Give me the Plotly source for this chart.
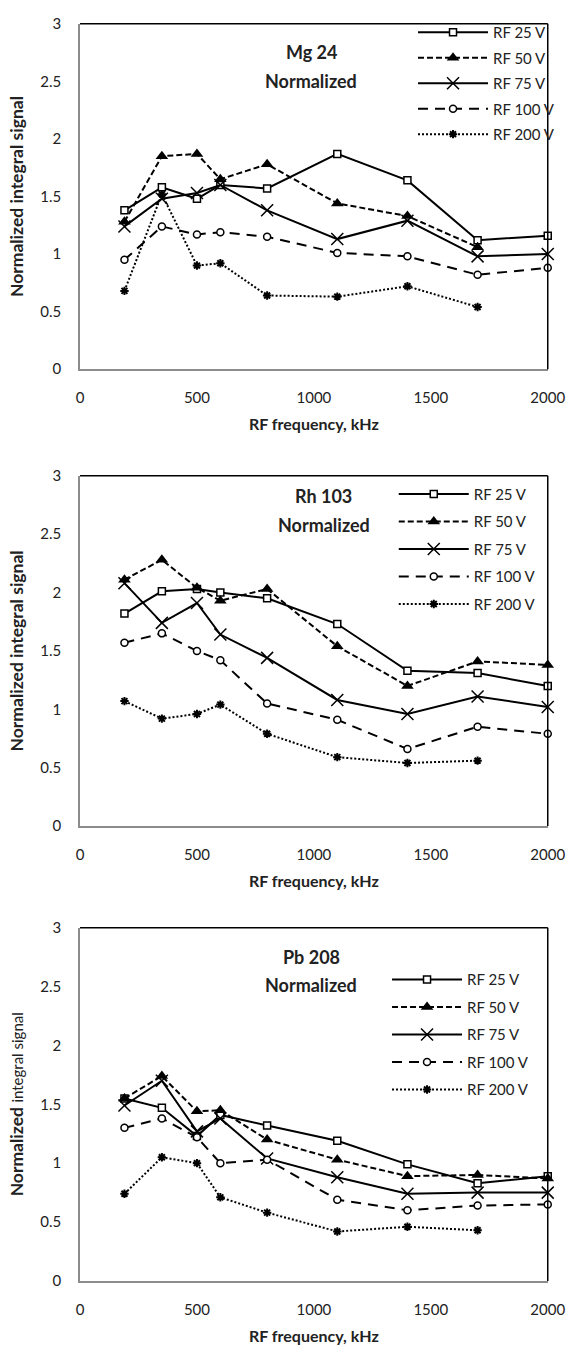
import plotly.graph_objects as go

# RF frequencies (kHz)
freq = [190, 350, 500, 600, 800, 1100, 1400, 1700, 2000]
freq_200 = freq[:8]

# Mg 24
mg_25 = [1.38, 1.58, 1.48, 1.60, 1.57, 1.87, 1.64, 1.12, 1.16]
mg_50 = [1.28, 1.85, 1.87, 1.65, 1.78, 1.44, 1.33, 1.06]
mg_75 = [1.24, 1.48, 1.53, 1.60, 1.38, 1.13, 1.29, 0.98, 1.00]
mg_100 = [0.95, 1.24, 1.17, 1.19, 1.15, 1.01, 0.98, 0.82, 0.88]
mg_200 = [0.68, 1.52, 0.90, 0.92, 0.64, 0.63, 0.72, 0.54]

# Rh 103
rh_25 = [1.82, 2.01, 2.03, 2.00, 1.95, 1.73, 1.33, 1.31, 1.20]
rh_50 = [2.11, 2.28, 2.04, 1.93, 2.03, 1.54, 1.20, 1.41, 1.38]
rh_75 = [2.08, 1.74, 1.91, 1.64, 1.44, 1.08, 0.96, 1.11, 1.02]
rh_100 = [1.57, 1.65, 1.50, 1.42, 1.05, 0.91, 0.66, 0.85, 0.79]
rh_200 = [1.07, 0.92, 0.96, 1.04, 0.79, 0.59, 0.54, 0.56]

# Pb 208
pb_25 = [1.55, 1.47, 1.23, 1.41, 1.32, 1.19, 0.99, 0.83, 0.89]
pb_50 = [1.55, 1.74, 1.44, 1.45, 1.20, 1.03, 0.89, 0.90, 0.87]
pb_75 = [1.49, 1.70, 1.27, 1.38, 1.04, 0.88, 0.74, 0.75, 0.75]
pb_100 = [1.30, 1.38, 1.22, 1.00, 1.03, 0.69, 0.60, 0.64, 0.65]
pb_200 = [0.74, 1.05, 1.00, 0.71, 0.58, 0.42, 0.46, 0.43]

series_names = ["RF 25 V", "RF 50 V", "RF 75 V", "RF 100 V", "RF 200 V"]
panel_titles = ["Mg 24", "Rh 103", "Pb 208"]
panels = [
    [mg_25, mg_50, mg_75, mg_100, mg_200],
    [rh_25, rh_50, rh_75, rh_100, rh_200],
    [pb_25, pb_50, pb_75, pb_100, pb_200],
]

W, H = 585, 1358
FONT = "Lato"

# line / marker styles per RF voltage
styles = [
    dict(dash="solid", width=2, symbol="square", size=7, fill="white", mlw=1.5),
    dict(dash="6px,3px", width=2, symbol="triangle-up", size=11, fill="black", mlw=0),
    dict(dash="solid", width=2, symbol="x-thin-open", size=12, fill="black", mlw=1.5),
    dict(dash="10px,7px", width=2, symbol="circle", size=7, fill="white", mlw=1.5),
    dict(dash="2px,2px", width=2, symbol="asterisk-open", size=7, fill="black", mlw=2),
]

# plot-area boxes in pixels: (top, bottom)
x_left, x_right = 79, 565
boxes = [(14, 364), (472, 827), (930, 1288)]
legend_tops = [6, 474, 966]
legend_x = [425, 405, 398]
legend_gaps = [3, 5, 5]
title_y = [(43, 72), (493, 522), (960, 988)]
title_x = [319, 332, 319]


def py(p):
    return 1 - p / H


def px(p):
    return p / W


fig = go.Figure()
layout = dict(
    width=W, height=H,
    margin=dict(l=0, r=0, t=0, b=0),
    paper_bgcolor="white", plot_bgcolor="white",
    font=dict(family=FONT, size=15, color="#222"),
    showlegend=True,
    annotations=[], shapes=[],
)

for i, data in enumerate(panels):
    sfx = "" if i == 0 else str(i + 1)
    xa, ya = "x" + sfx, "y" + sfx
    leg = "legend" + sfx
    for j, (name, vals, st) in enumerate(zip(series_names, data, styles)):
        xs = freq if len(vals) == len(freq) else freq_200
        fig.add_trace(go.Scatter(
            x=xs, y=vals, name=name, mode="lines+markers",
            xaxis=xa, yaxis=ya, legend=leg, legendgroup=f"p{i}_{j}",
            line=dict(color="black", width=st["width"], dash=st["dash"]),
            marker=dict(symbol=st["symbol"], size=st["size"], color=st["fill"],
                        line=dict(color="black", width=st["mlw"])),
            cliponaxis=False,
        ))
    top, bot = boxes[i]
    if i == 2:
        ytitle = "<b>Normalized</b> <span style='font-size:15px'>integral signal</span>"
    else:
        ytitle = "<b>Normalized integral signal</b>"
    layout["xaxis" + sfx] = dict(
        domain=[px(x_left), px(x_right)], anchor=ya, range=[0, 2000],
        dtick=500, tick0=0, showgrid=False, zeroline=False,
        showline=True, linecolor="#8c8c8c", linewidth=1.5,
        ticks="", ticklabelstandoff=14, tickfont=dict(size=15, color="#222"),
        title=dict(text="<b>RF frequency, kHz</b>", standoff=14,
                   font=dict(size=16, color="#222")),
    )
    layout["yaxis" + sfx] = dict(
        domain=[py(bot), py(top)], anchor=xa, range=[0, 3],
        dtick=0.5, tick0=0, showgrid=False, zeroline=False,
        showline=True, linecolor="#8c8c8c", linewidth=1.5,
        ticks="", ticklabelstandoff=14, tickfont=dict(size=15, color="#222"),
        title=dict(text=ytitle, standoff=12, font=dict(size=17.5, color="#222")),
    )
    layout[leg] = dict(
        x=px(legend_x[i]), y=py(legend_tops[i]), xanchor="left", yanchor="top",
        bgcolor="rgba(0,0,0,0)", borderwidth=0, itemwidth=70,
        tracegroupgap=legend_gaps[i], font=dict(size=15, color="#222"),
        itemclick=False, itemdoubleclick=False,
    )
    # top and right edges of the plot-area frame
    layout["shapes"].append(dict(
        type="line", xref="paper", yref="paper",
        x0=px(x_left), x1=px(x_right), y0=py(top), y1=py(top),
        line=dict(color="black", width=1.5)))
    layout["shapes"].append(dict(
        type="line", xref="paper", yref="paper",
        x0=px(x_right), x1=px(x_right), y0=py(top), y1=py(bot),
        line=dict(color="black", width=1.5)))
    t1, t2 = title_y[i]
    for txt, yy in [(panel_titles[i], t1), ("Normalized", t2)]:
        layout["annotations"].append(dict(
            text=f"<b>{txt}</b>", xref="paper", yref="paper",
            x=px(title_x[i]), y=py(yy), xanchor="center", yanchor="middle",
            showarrow=False, font=dict(size=18, color="#222")))

fig.update_layout(**layout)
fig.write_html("out.html")
